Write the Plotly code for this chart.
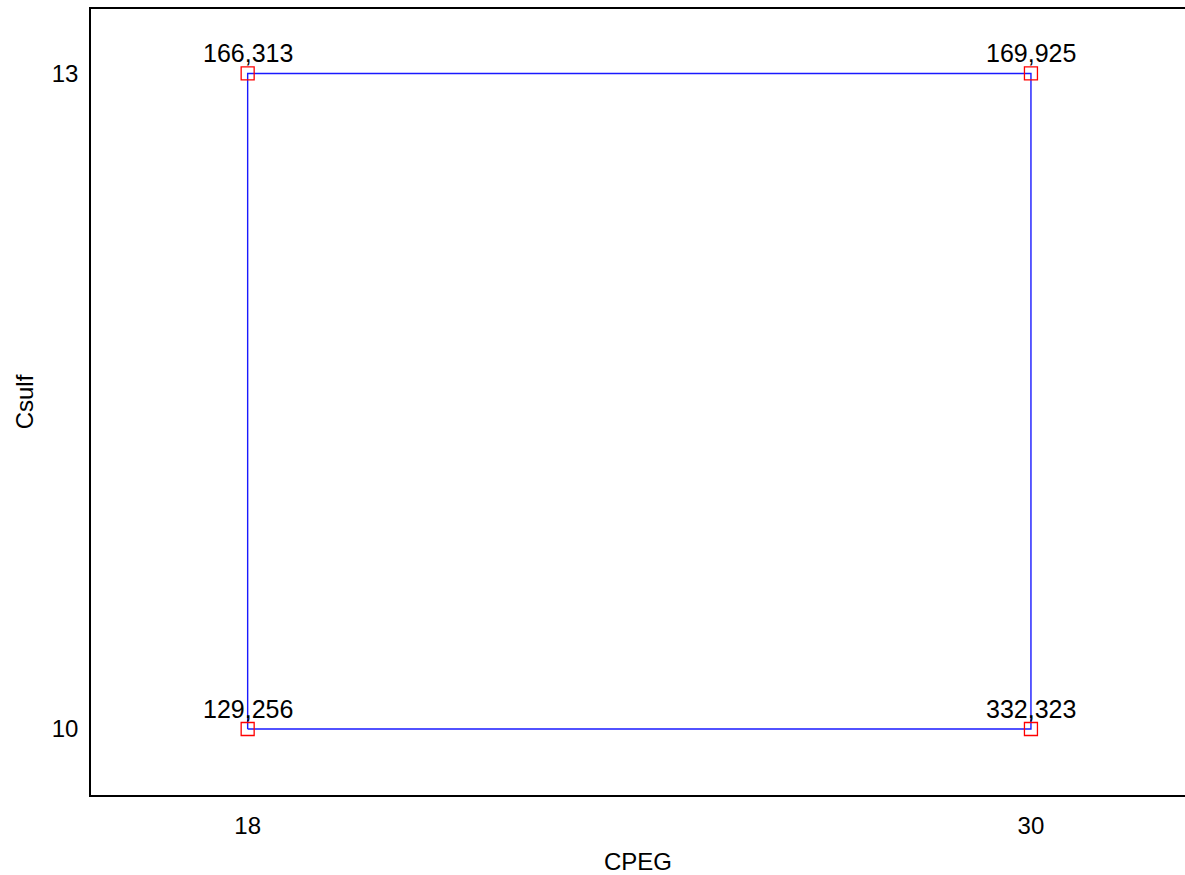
import plotly.graph_objects as go

# Design points: CPEG vs Csulf, with the measured response at each corner
cpeg = [18, 18, 30, 30]
csulf = [10, 13, 13, 10]
response = ["129,256", "166,313", "169,925", "332,323"]

x_ticks = [18, 30]
y_ticks = [10, 13]

# close the rectangle outline
outline_x = cpeg + [cpeg[0]]
outline_y = csulf + [csulf[0]]

label_font = dict(family="Liberation Sans, Arial, sans-serif", size=25, color="#000000")
axis_font = dict(family="Liberation Sans, Arial, sans-serif", size=24, color="#000000")

fig = go.Figure()
fig.add_trace(go.Scatter(
    x=outline_x, y=outline_y, mode="lines",
    line=dict(color="#1a1aff", width=1.4),
    hoverinfo="skip", showlegend=False,
))
fig.add_trace(go.Scatter(
    x=cpeg, y=csulf, mode="markers",
    marker=dict(symbol="square-open", size=13, color="#ff0000", line=dict(width=1.3)),
    showlegend=False,
))

# response value written just above each corner point
for xv, yv, txt in zip(cpeg, csulf, response):
    fig.add_annotation(
        x=xv, y=yv, text=txt, showarrow=False,
        xanchor="center", yanchor="bottom", yshift=4,
        font=label_font,
    )

fig.update_layout(
    width=1185, height=875,
    margin=dict(l=91, r=0, t=9, b=74),
    paper_bgcolor="white", plot_bgcolor="white",
    font=axis_font,
    xaxis=dict(
        range=[15.60, 32.36], tickvals=x_ticks, ticktext=[str(v) for v in x_ticks],
        showgrid=False, zeroline=False, showline=True, mirror=True,
        linecolor="#000000", linewidth=1.5, ticks="",
        ticklabelstandoff=8, tickfont=axis_font,
        title=dict(text="CPEG", font=axis_font, standoff=20),
    ),
    yaxis=dict(
        range=[9.698, 13.295], tickvals=y_ticks, ticktext=[str(v) for v in y_ticks],
        showgrid=False, zeroline=False, showline=True, mirror=False,
        linecolor="#000000", linewidth=1.5, ticks="",
        ticklabelstandoff=6, tickfont=axis_font,
        title=dict(text="Csulf", font=axis_font, standoff=11),
    ),
)

fig.write_html("out.html")
